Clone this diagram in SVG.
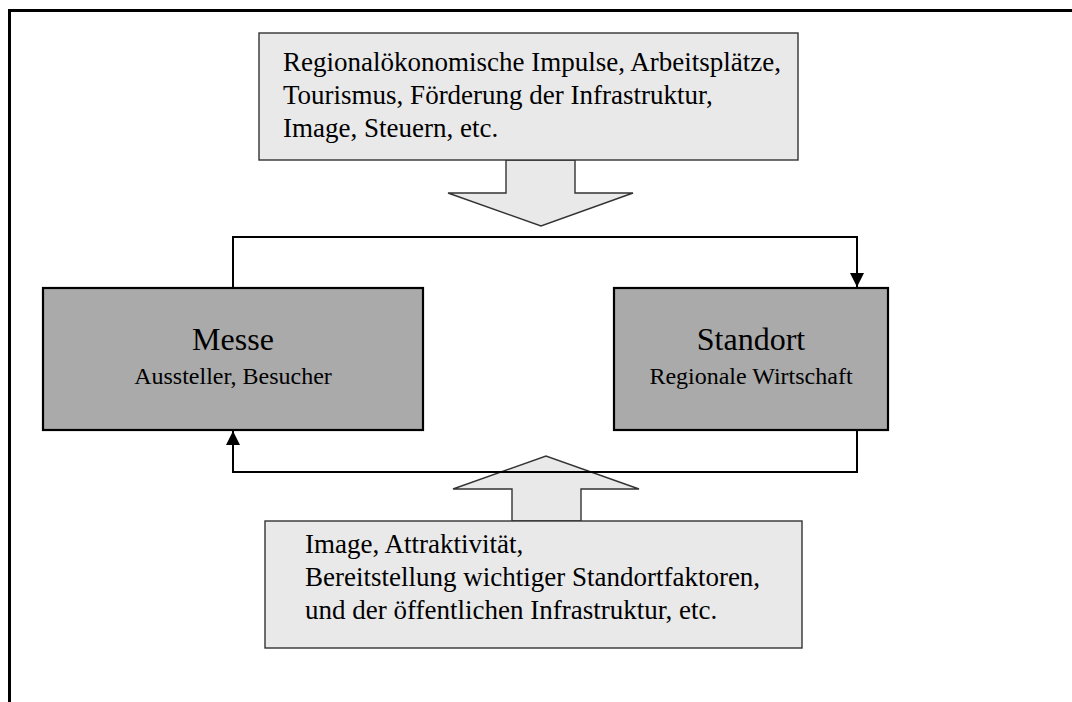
<svg xmlns="http://www.w3.org/2000/svg" width="1072" height="702" viewBox="0 0 1072 702">
  <style>
    .frame { fill: none; stroke: #000; stroke-width: 3; }
    .note { fill: #e9e9e9; stroke: #333; stroke-width: 1.4; }
    .block { fill: #aaaaaa; stroke: #000; stroke-width: 2.2; }
    .wire { fill: none; stroke: #000; stroke-width: 2; }
    text { font-family: "Liberation Serif", "Times New Roman", serif; fill: #000; }
    .body { font-size: 27px; }
    .title { font-size: 32px; text-anchor: middle; }
    .sub { font-size: 24px; text-anchor: middle; }
  </style>
  <defs>
    <marker id="head" viewBox="0 0 10 10" refX="10" refY="5" markerWidth="7" markerHeight="7" markerUnits="userSpaceOnUse" orient="auto">
      <path d="M0,0 L10,5 L0,10 Z" fill="#000"/>
    </marker>
    <marker id="tip" viewBox="0 0 12 12" refX="12" refY="6" markerWidth="14" markerHeight="14" markerUnits="userSpaceOnUse" orient="auto">
      <path d="M0,0 L12,6 L0,12 Z" fill="#000"/>
    </marker>
  </defs>

  <!-- outer frame (left and top edges) -->
  <path class="frame" d="M9.5,702 L9.5,10.5 L1072,10.5"/>

  <!-- effects on the location -->
  <g id="impulse">
    <polygon class="note" points="506,160 575,160 575,193 633,193 541,226 448,193 506,193"/>
    <rect class="note" x="259" y="33" width="539" height="127"/>
    <text class="body" x="283" y="71">Regionalökonomische Impulse, Arbeitsplätze,</text>
    <text class="body" x="283" y="104">Tourismus, Förderung der Infrastruktur,</text>
    <text class="body" x="283" y="137">Image, Steuern, etc.</text>
  </g>

  <!-- fair -->
  <g id="messe">
    <rect class="block" x="43" y="288" width="380" height="142"/>
    <text class="title" x="233" y="350">Messe</text>
    <text class="sub" x="233" y="384">Aussteller, Besucher</text>
  </g>

  <!-- location -->
  <g id="standort">
    <rect class="block" x="614" y="288" width="274" height="142"/>
    <text class="title" x="751" y="350">Standort</text>
    <text class="sub" x="751" y="384">Regionale Wirtschaft</text>
  </g>

  <!-- effects on the fair -->
  <g id="attraktivitaet">
    <polygon class="note" points="512,521 581,521 581,489 639,489 546,456 453,489 512,489"/>
    <rect class="note" x="265" y="521" width="537" height="127"/>
    <text class="body" x="305" y="553">Image, Attraktivität,</text>
    <text class="body" x="305" y="586">Bereitstellung wichtiger Standortfaktoren,</text>
    <text class="body" x="305" y="619">und der öffentlichen Infrastruktur, etc.</text>
  </g>

  <!-- feedback loop -->
  <g id="connectors">
    <path class="wire" d="M233,288 L233,237 L857,237 L857,287" marker-end="url(#tip)"/>
    <path class="wire" d="M857,430 L857,472 L233,472 L233,431" marker-end="url(#tip)"/>
  </g>
</svg>
